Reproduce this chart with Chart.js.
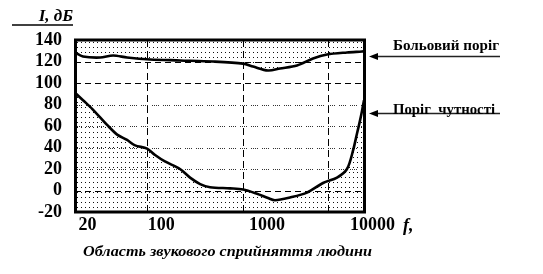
<!DOCTYPE html>
<html>
<head>
<meta charset="utf-8">
<script src="https://cdn.jsdelivr.net/npm/chart.js@4/dist/chart.umd.min.js"></script>
<style>
    html, body { margin: 0; padding: 0; background: #fff; }
    canvas { display: block; }
</style>
</head>
<body>
<canvas id="chart" width="543" height="274"></canvas>
<script>
// --- Data ---
const painFreq = [15.2, 18.1, 26.3, 34.9, 47.3, 78.2, 150, 309, 594, 739, 1024, 1331, 1928, 2733, 3708, 5735, 7955, 8310];
const painLevel = [128.4, 124.7, 123.7, 125.6, 123.7, 121.9, 121, 120, 118, 115.3, 111.6, 113.5, 116.3, 122.8, 126.5, 128.4, 129.3, 129.5];

const hearFreq = [15.2, 18.1, 22.1, 26.3, 30.6, 38.1, 47.3, 56.3, 73.2, 87.2, 108, 150, 187, 233, 289, 447, 594, 806, 1024, 1193, 1655, 2397, 3399, 4611, 5735, 6537, 7133, 7614, 7955, 8310];
const hearLevel = [91, 84, 76, 68, 61, 52, 47, 42, 39, 33, 27, 20, 12, 6, 3, 2, 1, -3, -7, -9, -6.5, -2, 7, 12, 20, 37, 53, 65, 74, 84];

const xTickValues = [20, 100, 1000, 10000];
const xTickLabels = ['20', '100', '1000', '10000'];
const xGridValues = [73, 594, 3790];
const yGridValues = [120, 100, 80, 60, 40, 20, 0];

const yTitle = 'I, дБ';
const xTitle = 'f,';
const caption = 'Область звукового сприйняття людини';
const painLabel = 'Больовий поріг';
const hearLabel = 'Поріг  чутності';

const SERIF = '"Liberation Serif", "Times New Roman", serif';

// dotted fill pattern
function makeDots() {
    const c = document.createElement('canvas');
    c.width = 4; c.height = 5;
    const g = c.getContext('2d');
    g.fillStyle = '#111';
    g.fillRect(1, 2, 1, 1);
    return g.createPattern(c, 'repeat');
}

const ctx = document.getElementById('chart').getContext('2d');
const dots = makeDots();

// gridlines behind the curves, frame on top
const gridPlugin = {
    id: 'gridLines',
    beforeDatasetsDraw(chart) {
        const { ctx, chartArea: a, scales } = chart;
        ctx.save();
        ctx.lineWidth = 1;
        yGridValues.forEach(v => {
            const y = Math.round(scales.y.getPixelForValue(v)) + 0.5;
            const solid = (v === 120 || v === 100 || v === 0);
            ctx.strokeStyle = solid ? '#000' : '#333';
            ctx.setLineDash(solid ? [6, 4] : [1, 1, 1, 1, 1, 1, 1, 4]);
            ctx.beginPath();
            ctx.moveTo(a.left, y);
            ctx.lineTo(a.right, y);
            ctx.stroke();
        });
        ctx.strokeStyle = '#000';
        ctx.setLineDash([7, 4]);
        xGridValues.forEach(v => {
            const x = Math.round(scales.x.getPixelForValue(v)) + 0.5;
            ctx.beginPath();
            ctx.moveTo(x, a.top);
            ctx.lineTo(x, a.bottom);
            ctx.stroke();
        });
        ctx.restore();
    },
    afterDatasetsDraw(chart) {
        const { ctx, chartArea: a } = chart;
        ctx.save();
        ctx.strokeStyle = '#000';
        ctx.lineWidth = 3;
        ctx.strokeRect(a.left + 0.5, a.top, a.right - a.left, a.bottom - a.top);
        ctx.restore();
    }
};

function arrow(ctx, x1, x2, y) {
    ctx.strokeStyle = '#222';
    ctx.lineWidth = 1.5;
    ctx.beginPath();
    ctx.moveTo(x1 + 8, y);
    ctx.lineTo(x2, y);
    ctx.stroke();
    ctx.fillStyle = '#000';
    ctx.beginPath();
    ctx.moveTo(x1, y);
    ctx.lineTo(x1 + 9, y - 3.5);
    ctx.lineTo(x1 + 9, y + 3.5);
    ctx.closePath();
    ctx.fill();
}

// texts around the plot
const textPlugin = {
    id: 'texts',
    afterDraw(chart) {
        const { ctx, scales } = chart;
        ctx.save();
        ctx.fillStyle = '#000';
        ctx.textBaseline = 'alphabetic';

        // y title with the line under it
        ctx.font = 'italic bold 17px ' + SERIF;
        ctx.textAlign = 'right';
        ctx.fillText(yTitle, 73, 21);
        ctx.strokeStyle = '#000';
        ctx.lineWidth = 1.5;
        ctx.beginPath();
        ctx.moveTo(12, 25);
        ctx.lineTo(73, 25);
        ctx.stroke();

        // x title
        ctx.textAlign = 'left';
        ctx.font = 'italic bold 18px ' + SERIF;
        ctx.fillText(xTitle, 403, 231);

        // caption, stretched to its width
        ctx.font = 'italic bold 15px ' + SERIF;
        const w = ctx.measureText(caption).width;
        ctx.save();
        ctx.translate(83, 256);
        ctx.scale(289 / w, 1);
        ctx.fillText(caption, 0, 0);
        ctx.restore();

        // right side notes
        const yPain = Math.round(scales.y.getPixelForValue(125)) + 0.5;
        const yHear = Math.round(scales.y.getPixelForValue(72)) + 0.5;
        arrow(ctx, 369, 500, yPain);
        arrow(ctx, 369, 500, yHear);
        ctx.fillStyle = '#000';
        ctx.font = 'bold 15px ' + SERIF;
        let tw = ctx.measureText(painLabel).width;
        ctx.save();
        ctx.translate(393, yPain - 7);
        ctx.scale(106 / tw, 1);
        ctx.fillText(painLabel, 0, 0);
        ctx.restore();
        tw = ctx.measureText(hearLabel).width;
        ctx.save();
        ctx.translate(393, yHear);
        ctx.scale(102 / tw, 1);
        ctx.fillText(hearLabel, 0, 0);
        ctx.restore();
        ctx.restore();
    }
};

const lineStyle = {
    borderColor: '#000',
    borderWidth: 2.6,
    pointRadius: 0,
    tension: 0.3,
    backgroundColor: dots
};

const chart = new Chart(ctx, {
    type: 'line',
    data: {
        datasets: [
            { ...lineStyle, label: painLabel, data: painFreq.map((f, i) => ({ x: f, y: painLevel[i] })), fill: 'end' },
            { ...lineStyle, label: hearLabel, data: hearFreq.map((f, i) => ({ x: f, y: hearLevel[i] })), fill: 'start' }
        ]
    },
    options: {
        responsive: false,
        animation: false,
        layout: { padding: { top: 40, right: 179, bottom: 0, left: 0 } },
        plugins: {
            legend: { display: false },
            tooltip: { enabled: false }
        },
        scales: {
            x: {
                type: 'logarithmic',
                min: 15.2,
                max: 8310,
                grid: { display: false, drawTicks: false },
                border: { display: false },
                afterBuildTicks: scale => {
                    scale.ticks = xTickValues.map(v => ({ value: v }));
                },
                afterFit: scale => { scale.height = 62; },
                ticks: {
                    autoSkip: false,
                    maxRotation: 0,
                    padding: 3,
                    color: '#000',
                    font: { family: SERIF, size: 18, weight: 'bold' },
                    callback: (v, i) => xTickLabels[i]
                }
            },
            y: {
                min: -20,
                max: 140,
                grid: { display: false, drawTicks: false },
                border: { display: false },
                afterFit: scale => { scale.width = 75; },
                ticks: {
                    stepSize: 20,
                    autoSkip: false,
                    padding: 13,
                    color: '#000',
                    font: { family: SERIF, size: 18, weight: 'bold' }
                }
            }
        }
    },
    plugins: [gridPlugin, textPlugin]
});
</script>
</body>
</html>
